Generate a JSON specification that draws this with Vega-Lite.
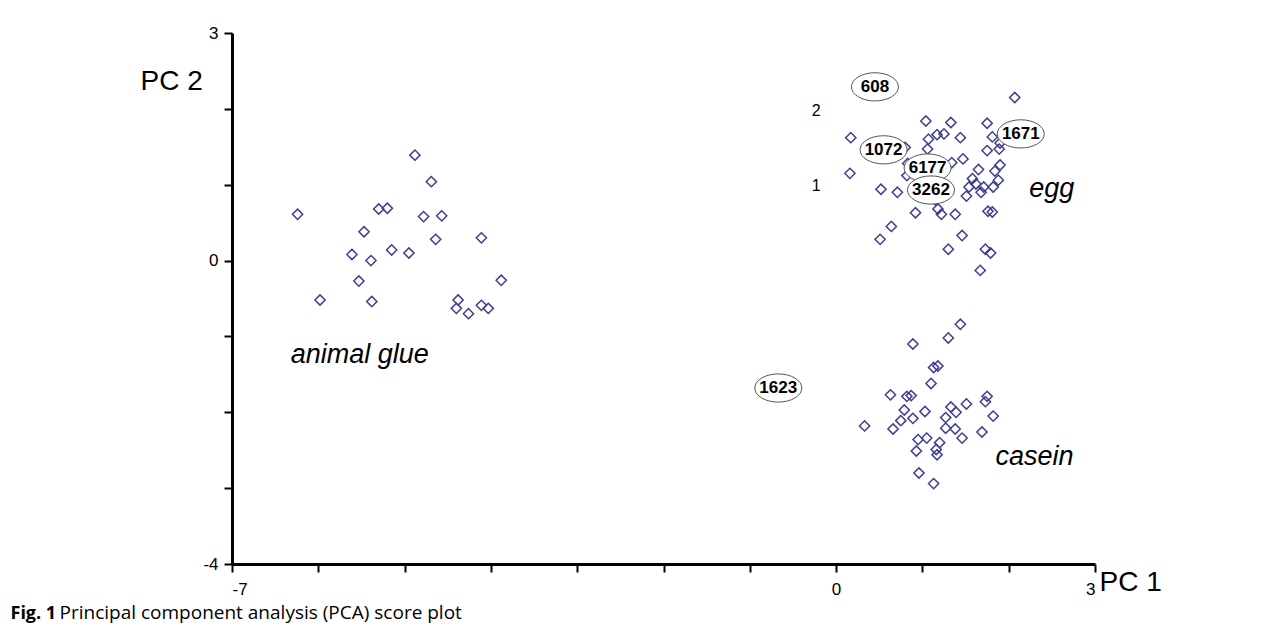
{
  "$schema": "https://vega.github.io/schema/vega-lite/v6.json",
  "width": 863,
  "height": 531,
  "autosize": {"type": "none"},
  "padding": {"left": 232, "top": 33, "right": 189, "bottom": 70},
  "background": "white",
  "config": {
    "view": {"stroke": null},
    "font": "Liberation Sans",
    "axis": {
      "domainColor": "black",
      "domainWidth": 3,
      "tickColor": "black",
      "tickWidth": 2,
      "tickSize": 8,
      "grid": false,
      "labelFont": "Liberation Sans",
      "labelFontSize": 17,
      "labelColor": "black",
      "titleFont": "Liberation Sans",
      "titleFontSize": 28,
      "titleFontWeight": "normal",
      "titleColor": "black"
    }
  },
  "resolve": {"scale": {"x": "independent"}, "axis": {"x": "independent"}},
  "encoding": {
    "y": {
      "field": "pc2",
      "type": "quantitative",
      "scale": {"domain": [-4, 3], "nice": false, "zero": false},
      "axis": {
        "values": [-4, -3, -2, -1, 0, 1, 2, 3],
        "labelExpr": "datum.value == -4 ? '-4' : datum.value == 0 ? '0' : datum.value == 3 ? '3' : ''",
        "labelPadding": 6,
        "title": "PC 2",
        "titleAngle": 0,
        "titleAlign": "left",
        "titleBaseline": "alphabetic",
        "titleX": -92,
        "titleY": 56
      }
    }
  },
  "layer": [
    {
      "data": {
        "values": [
          {"group": "animal glue", "pc1": -6.24, "pc2": 0.61},
          {"group": "animal glue", "pc1": -4.88, "pc2": 1.39},
          {"group": "animal glue", "pc1": -4.69, "pc2": 1.04},
          {"group": "animal glue", "pc1": -5.30, "pc2": 0.68},
          {"group": "animal glue", "pc1": -5.20, "pc2": 0.69},
          {"group": "animal glue", "pc1": -4.78, "pc2": 0.58},
          {"group": "animal glue", "pc1": -4.57, "pc2": 0.59},
          {"group": "animal glue", "pc1": -5.47, "pc2": 0.38},
          {"group": "animal glue", "pc1": -4.64, "pc2": 0.28},
          {"group": "animal glue", "pc1": -4.11, "pc2": 0.30},
          {"group": "animal glue", "pc1": -5.61, "pc2": 0.08},
          {"group": "animal glue", "pc1": -5.15, "pc2": 0.14},
          {"group": "animal glue", "pc1": -4.95, "pc2": 0.10},
          {"group": "animal glue", "pc1": -5.39, "pc2": 0.00},
          {"group": "animal glue", "pc1": -5.53, "pc2": -0.27},
          {"group": "animal glue", "pc1": -3.88, "pc2": -0.26},
          {"group": "animal glue", "pc1": -5.98, "pc2": -0.52},
          {"group": "animal glue", "pc1": -5.38, "pc2": -0.54},
          {"group": "animal glue", "pc1": -4.38, "pc2": -0.52},
          {"group": "animal glue", "pc1": -4.40, "pc2": -0.63},
          {"group": "animal glue", "pc1": -4.26, "pc2": -0.70},
          {"group": "animal glue", "pc1": -4.11, "pc2": -0.59},
          {"group": "animal glue", "pc1": -4.03, "pc2": -0.63},
          {"group": "egg", "pc1": 2.07, "pc2": 2.15},
          {"group": "egg", "pc1": 1.04, "pc2": 1.84},
          {"group": "egg", "pc1": 1.33, "pc2": 1.82},
          {"group": "egg", "pc1": 1.75, "pc2": 1.81},
          {"group": "egg", "pc1": 0.17, "pc2": 1.62},
          {"group": "egg", "pc1": 1.17, "pc2": 1.66},
          {"group": "egg", "pc1": 1.25, "pc2": 1.67},
          {"group": "egg", "pc1": 1.44, "pc2": 1.62},
          {"group": "egg", "pc1": 1.07, "pc2": 1.60},
          {"group": "egg", "pc1": 1.81, "pc2": 1.63},
          {"group": "egg", "pc1": 1.90, "pc2": 1.55},
          {"group": "egg", "pc1": 0.80, "pc2": 1.49},
          {"group": "egg", "pc1": 1.06, "pc2": 1.47},
          {"group": "egg", "pc1": 1.75, "pc2": 1.45},
          {"group": "egg", "pc1": 1.89, "pc2": 1.47},
          {"group": "egg", "pc1": 1.47, "pc2": 1.34},
          {"group": "egg", "pc1": 1.34, "pc2": 1.29},
          {"group": "egg", "pc1": 0.83, "pc2": 1.28},
          {"group": "egg", "pc1": 1.90, "pc2": 1.26},
          {"group": "egg", "pc1": 0.16, "pc2": 1.15},
          {"group": "egg", "pc1": 0.82, "pc2": 1.12},
          {"group": "egg", "pc1": 1.65, "pc2": 1.20},
          {"group": "egg", "pc1": 1.84, "pc2": 1.18},
          {"group": "egg", "pc1": 1.58, "pc2": 1.08},
          {"group": "egg", "pc1": 1.88, "pc2": 1.06},
          {"group": "egg", "pc1": 0.52, "pc2": 0.94},
          {"group": "egg", "pc1": 0.71, "pc2": 0.90},
          {"group": "egg", "pc1": 1.54, "pc2": 0.97},
          {"group": "egg", "pc1": 1.62, "pc2": 1.01},
          {"group": "egg", "pc1": 1.71, "pc2": 0.97},
          {"group": "egg", "pc1": 1.82, "pc2": 0.97},
          {"group": "egg", "pc1": 1.51, "pc2": 0.85},
          {"group": "egg", "pc1": 1.68, "pc2": 0.90},
          {"group": "egg", "pc1": 0.92, "pc2": 0.63},
          {"group": "egg", "pc1": 1.18, "pc2": 0.68},
          {"group": "egg", "pc1": 1.22, "pc2": 0.61},
          {"group": "egg", "pc1": 1.38, "pc2": 0.61},
          {"group": "egg", "pc1": 1.76, "pc2": 0.65},
          {"group": "egg", "pc1": 1.81, "pc2": 0.64},
          {"group": "egg", "pc1": 0.64, "pc2": 0.45},
          {"group": "egg", "pc1": 0.51, "pc2": 0.28},
          {"group": "egg", "pc1": 1.46, "pc2": 0.33},
          {"group": "egg", "pc1": 1.30, "pc2": 0.15},
          {"group": "egg", "pc1": 1.73, "pc2": 0.15},
          {"group": "egg", "pc1": 1.79, "pc2": 0.10},
          {"group": "egg", "pc1": 1.67, "pc2": -0.13},
          {"group": "egg", "pc1": 1.09, "pc2": 1.19},
          {"group": "egg", "pc1": 1.15, "pc2": 0.80},
          {"group": "casein", "pc1": 1.44, "pc2": -0.84},
          {"group": "casein", "pc1": 1.30, "pc2": -1.02},
          {"group": "casein", "pc1": 0.89, "pc2": -1.10},
          {"group": "casein", "pc1": 1.13, "pc2": -1.41},
          {"group": "casein", "pc1": 1.18, "pc2": -1.39},
          {"group": "casein", "pc1": 1.10, "pc2": -1.62},
          {"group": "casein", "pc1": 0.63, "pc2": -1.77},
          {"group": "casein", "pc1": 0.82, "pc2": -1.79},
          {"group": "casein", "pc1": 0.87, "pc2": -1.78},
          {"group": "casein", "pc1": 1.75, "pc2": -1.79},
          {"group": "casein", "pc1": 1.73, "pc2": -1.86},
          {"group": "casein", "pc1": 0.79, "pc2": -1.97},
          {"group": "casein", "pc1": 1.03, "pc2": -1.99},
          {"group": "casein", "pc1": 1.33, "pc2": -1.93},
          {"group": "casein", "pc1": 1.39, "pc2": -2.00},
          {"group": "casein", "pc1": 1.51, "pc2": -1.89},
          {"group": "casein", "pc1": 0.33, "pc2": -2.18},
          {"group": "casein", "pc1": 0.66, "pc2": -2.22},
          {"group": "casein", "pc1": 0.75, "pc2": -2.11},
          {"group": "casein", "pc1": 0.89, "pc2": -2.08},
          {"group": "casein", "pc1": 1.27, "pc2": -2.07},
          {"group": "casein", "pc1": 1.82, "pc2": -2.05},
          {"group": "casein", "pc1": 1.27, "pc2": -2.21},
          {"group": "casein", "pc1": 1.38, "pc2": -2.22},
          {"group": "casein", "pc1": 1.46, "pc2": -2.34},
          {"group": "casein", "pc1": 1.69, "pc2": -2.26},
          {"group": "casein", "pc1": 0.95, "pc2": -2.36},
          {"group": "casein", "pc1": 1.05, "pc2": -2.34},
          {"group": "casein", "pc1": 1.20, "pc2": -2.40},
          {"group": "casein", "pc1": 0.93, "pc2": -2.51},
          {"group": "casein", "pc1": 1.16, "pc2": -2.49},
          {"group": "casein", "pc1": 1.17, "pc2": -2.56},
          {"group": "casein", "pc1": 0.96, "pc2": -2.80},
          {"group": "casein", "pc1": 1.13, "pc2": -2.94}
        ]
      },
      "mark": {
        "type": "point",
        "shape": "diamond",
        "filled": false,
        "stroke": "#3f3f8f",
        "strokeWidth": 1.5,
        "size": 105,
        "opacity": 1
      },
      "encoding": {
        "x": {
          "field": "pc1",
          "type": "quantitative",
          "scale": {"domain": [-7, 3], "nice": false, "zero": false},
          "axis": {
            "orient": "bottom",
            "values": [-7, -6, -5, -4, -3, -2, -1, 0, 1, 2, 3],
            "labelExpr": "datum.value == -7 ? '-7' : datum.value == 0 ? '0' : datum.value == 3 ? '3' : ''",
            "labelPadding": 9,
            "title": "PC 1",
            "titleAlign": "left",
            "titleBaseline": "alphabetic",
            "titleX": 867,
            "titleY": 26
          }
        }
      }
    },
    {
      "data": {
        "values": [
          {"id": "608", "pc1": 0.45, "pc2": 2.29},
          {"id": "1072", "pc1": 0.55, "pc2": 1.46},
          {"id": "1671", "pc1": 2.14, "pc2": 1.67},
          {"id": "6177", "pc1": 1.06, "pc2": 1.22},
          {"id": "3262", "pc1": 1.10, "pc2": 0.93},
          {"id": "1623", "pc1": -0.67, "pc2": -1.68}
        ]
      },
      "encoding": {
        "x": {
          "field": "pc1",
          "type": "quantitative",
          "scale": {"domain": [-7, 3], "nice": false, "zero": false},
          "axis": null
        }
      },
      "layer": [
        {
          "mark": {
            "type": "point",
            "shape": "M -1 0 A 1 0.6 0 1 1 1 0 A 1 0.6 0 1 1 -1 0 Z",
            "filled": true,
            "fill": "white",
            "fillOpacity": 1,
            "stroke": "#555555",
            "strokeWidth": 1,
            "strokeOpacity": 1,
            "size": 2209,
            "opacity": 1
          }
        },
        {
          "mark": {
            "type": "text",
            "font": "Liberation Sans",
            "fontWeight": "bold",
            "fontSize": 17,
            "color": "black",
            "align": "center",
            "baseline": "middle"
          },
          "encoding": {"text": {"field": "id"}}
        }
      ]
    },
    {
      "data": {
        "values": [
          {"name": "animal glue", "pc1": -5.52, "pc2": -1.24},
          {"name": "egg", "pc1": 2.50, "pc2": 0.95},
          {"name": "casein", "pc1": 2.30, "pc2": -2.59}
        ]
      },
      "mark": {
        "type": "text",
        "font": "Liberation Sans",
        "fontStyle": "italic",
        "fontSize": 27,
        "color": "black",
        "align": "center",
        "baseline": "middle"
      },
      "encoding": {
        "x": {
          "field": "pc1",
          "type": "quantitative",
          "scale": {"domain": [-7, 3], "nice": false, "zero": false},
          "axis": {
            "orient": "bottom",
            "domain": false,
            "ticks": false,
            "labels": false,
            "title": "Principal component analysis (PCA) score plot",
            "titleFont": "Open Sans",
            "titleFontSize": 19,
            "titleFontWeight": "normal",
            "titleAlign": "left",
            "titleBaseline": "alphabetic",
            "titleX": -173,
            "titleY": 54
          }
        },
        "text": {"field": "name"}
      }
    },
    {
      "data": {
        "values": [
          {"mark": "1", "pc1": -0.23, "pc2": 0.98},
          {"mark": "2", "pc1": -0.23, "pc2": 1.97}
        ]
      },
      "mark": {
        "type": "text",
        "font": "Liberation Sans",
        "fontSize": 16,
        "color": "black",
        "align": "center",
        "baseline": "middle"
      },
      "encoding": {
        "x": {
          "field": "pc1",
          "type": "quantitative",
          "scale": {"domain": [-7, 3], "nice": false, "zero": false},
          "axis": {
            "orient": "bottom",
            "domain": false,
            "ticks": false,
            "labels": false,
            "title": "Fig. 1",
            "titleFont": "Open Sans",
            "titleFontSize": 18,
            "titleFontWeight": "bold",
            "titleAlign": "left",
            "titleBaseline": "alphabetic",
            "titleX": -222,
            "titleY": 54
          }
        },
        "text": {"field": "mark"}
      }
    }
  ]
}
